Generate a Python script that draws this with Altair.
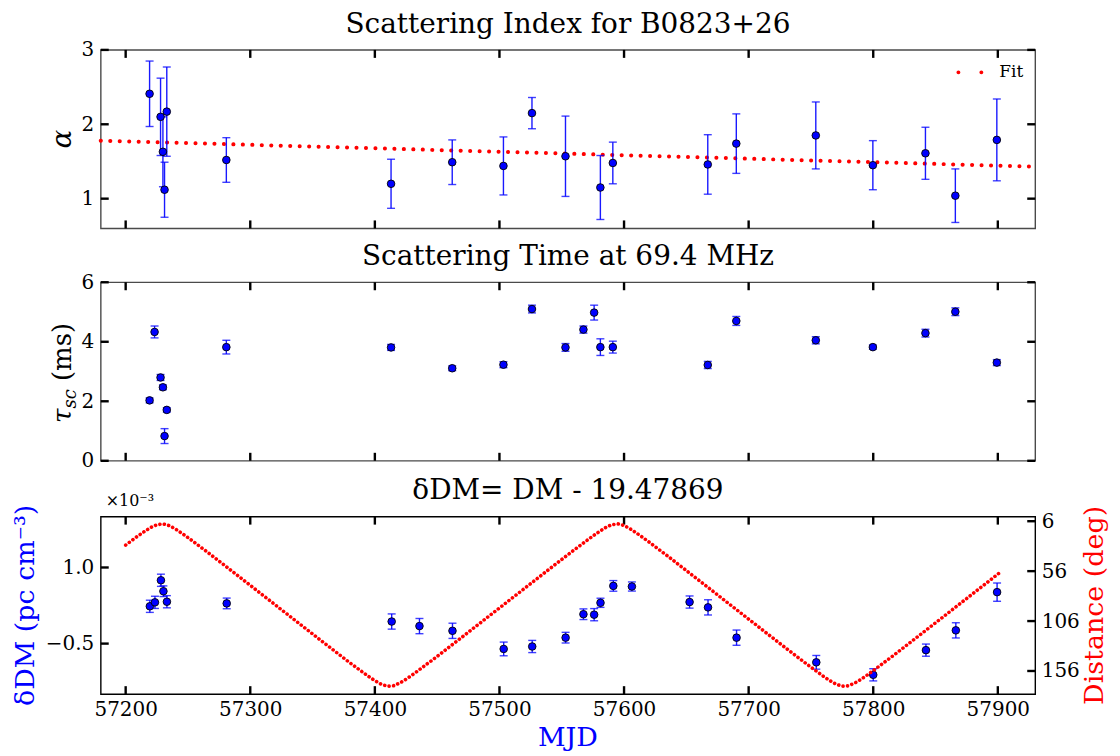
import altair as alt
import pandas as pd

FONT = "DejaVu Serif"
W, H = 937, 179
XDOM = [57180, 57930]
x_ticks = [57200, 57300, 57400, 57500, 57600, 57700, 57800, 57900]

# ---- Scattering index ----
alpha_mjd = [57219.2, 57228.0, 57229.9, 57231.2, 57233.0, 57280.8, 57413.0, 57462.1, 57503.2, 57526.1,
             57553.0, 57581.0, 57591.0, 57667.2, 57690.1, 57753.9, 57799.7, 57841.9, 57865.9, 57899.2]
alpha_val = [2.41, 2.10, 1.63, 1.12, 2.17, 1.52, 1.20, 1.49, 1.44, 2.15,
             1.57, 1.15, 1.48, 1.46, 1.74, 1.85, 1.45, 1.61, 1.04, 1.79]
alpha_err = [0.44, 0.52, 0.47, 0.37, 0.60, 0.30, 0.33, 0.30, 0.39, 0.21,
             0.54, 0.43, 0.28, 0.40, 0.40, 0.45, 0.33, 0.35, 0.36, 0.55]
fit_mjd = [57180, 57930]
fit_alpha = [1.78, 1.43]
alpha_ticks = [1, 2, 3]

# ---- Scattering time ----
tau_mjd = [57219.2, 57223.2, 57228.0, 57229.9, 57231.2, 57233.0, 57280.8, 57413.0, 57462.1, 57503.2,
           57526.1, 57553.0, 57567.4, 57576.0, 57581.0, 57591.0, 57667.2, 57690.1, 57753.9, 57799.7,
           57841.9, 57865.9, 57899.2]
tau_val = [2.03, 4.33, 2.80, 2.47, 0.83, 1.71, 3.82, 3.81, 3.11, 3.23,
           5.10, 3.81, 4.41, 4.98, 3.82, 3.82, 3.22, 4.70, 4.05, 3.82,
           4.29, 5.01, 3.30]
tau_err = [0.08, 0.20, 0.10, 0.08, 0.25, 0.07, 0.23, 0.10, 0.08, 0.10,
           0.13, 0.13, 0.12, 0.25, 0.28, 0.20, 0.12, 0.15, 0.12, 0.07,
           0.13, 0.13, 0.10]
tau_ticks = [0, 2, 4, 6]

# ---- delta DM (x 1e-3) ----
dm_mjd = [57219.4, 57223.5, 57228.3, 57230.3, 57233.1, 57281.1, 57413.5, 57435.8, 57462.3, 57503.4,
          57526.3, 57553.1, 57567.4, 57576.0, 57581.1, 57591.4, 57606.3, 57652.6, 57667.4, 57690.3,
          57754.3, 57800.0, 57842.3, 57866.3, 57899.4]
dm_val = [0.745, 0.771, 0.916, 0.844, 0.775, 0.764, 0.645, 0.615, 0.584, 0.465,
          0.481, 0.539, 0.693, 0.690, 0.768, 0.879, 0.875, 0.773, 0.738, 0.539,
          0.377, 0.295, 0.457, 0.587, 0.838]
dm_err = [0.040, 0.040, 0.040, 0.035, 0.040, 0.035, 0.050, 0.050, 0.050, 0.045,
          0.040, 0.035, 0.035, 0.040, 0.030, 0.035, 0.030, 0.040, 0.050, 0.050,
          0.045, 0.040, 0.040, 0.050, 0.060]
dm_ticks = [0.5, 1.0]

# ---- angular distance (deg), sampled every 5 days ----
dist_mjd = list(range(57200, 57901, 5)) + [57903]
dist_deg = [29.9, 25.2, 20.6, 16.3, 12.4, 9.5, 8.7, 10.4, 13.8, 18.0,
            22.4, 27.0, 31.7, 36.4, 41.2, 46.0, 50.8, 55.7, 60.5, 65.4,
            70.2, 75.1, 80.0, 84.8, 89.7, 94.6, 99.4, 104.3, 109.2, 114.0,
            118.9, 123.8, 128.6, 133.4, 138.2, 143.0, 147.8, 152.4, 157.0, 161.5,
            165.7, 169.2, 171.3, 170.8, 168.1, 164.3, 160.0, 155.4, 150.7, 146.1,
            141.4, 136.6, 131.7, 126.9, 122.1, 117.2, 112.3, 107.5, 102.6, 97.7,
            92.9, 88.0, 83.1, 78.3, 73.4, 68.5, 63.7, 58.8, 54.0, 49.1,
            44.3, 39.5, 34.7, 30.1, 25.4, 20.8, 16.5, 12.5, 9.6, 8.6,
            10.3, 13.7, 17.8, 22.2, 26.8, 31.5, 36.2, 40.9, 45.7, 50.6,
            55.4, 60.3, 65.1, 70.0, 74.8, 79.7, 84.6, 89.5, 94.3, 99.2,
            104.1, 108.9, 113.8, 118.7, 123.5, 128.4, 133.2, 138.0, 142.8, 147.5,
            152.2, 156.8, 161.3, 165.5, 169.1, 171.2, 170.9, 168.2, 164.5, 160.2,
            155.6, 151.0, 146.3, 141.6, 136.8, 132.0, 127.1, 122.3, 117.4, 112.6,
            107.7, 102.9, 98.0, 93.1, 88.2, 83.4, 78.5, 73.6, 68.8, 63.9,
            59.0, 56.1]
dist_ticks = [6, 56, 106, 156]

BLUE = "#0000ff"
RED = "#ff0000"
xs = alt.Scale(domain=XDOM, nice=False, zero=False)
one = pd.DataFrame({"k": [0]})


def table(mjd, val, err):
    return pd.DataFrame({"mjd": mjd, "v": val,
                         "lo": [a - b for a, b in zip(val, err)],
                         "hi": [a + b for a, b in zip(val, err)]})


def data_layers(df, ys, yax, xax):
    base = alt.Chart(df)
    X = alt.X("mjd:Q", scale=xs, axis=xax)
    bars = base.mark_rule(color=BLUE, strokeWidth=1.4, opacity=0.9).encode(
        x=X, y=alt.Y("lo:Q", scale=ys, axis=yax), y2="hi:Q")
    cap_lo = base.mark_rule(color=BLUE, strokeWidth=1.4, opacity=0.75, xOffset=-4, x2Offset=4).encode(
        x=X, x2="mjd:Q", y=alt.Y("lo:Q", scale=ys, axis=yax))
    cap_hi = base.mark_rule(color=BLUE, strokeWidth=1.4, opacity=0.75, xOffset=-4, x2Offset=4).encode(
        x=X, x2="mjd:Q", y=alt.Y("hi:Q", scale=ys, axis=yax))
    pts = base.mark_point(filled=True, fill=BLUE, stroke="black", strokeWidth=0.9, size=58, opacity=1).encode(
        x=X, y=alt.Y("v:Q", scale=ys, axis=yax))
    return [bars, cap_lo, cap_hi, pts]


def x_tick_layers(xax, h=H):
    d = alt.Chart(pd.DataFrame({"t": x_ticks}))
    X = alt.X("t:Q", scale=xs, axis=xax)
    return [d.mark_rule(color="black", strokeWidth=2.4).encode(x=X, y=alt.value(0), y2=alt.value(8)),
            d.mark_rule(color="black", strokeWidth=2.4).encode(x=X, y=alt.value(h - 8), y2=alt.value(h))]


def y_tick_layers(vals, ys, yax, left=True, right=True):
    d = alt.Chart(pd.DataFrame({"t": vals}))
    Y = alt.Y("t:Q", scale=ys, axis=yax)
    out = []
    if left:
        out.append(d.mark_rule(color="black", strokeWidth=2.4).encode(y=Y, x=alt.value(0), x2=alt.value(8)))
    if right:
        out.append(d.mark_rule(color="black", strokeWidth=2.4).encode(y=Y, x=alt.value(W - 8), x2=alt.value(W)))
    return out


def yaxis(values, **kw):
    args = dict(values=values, title=None, ticks=False, domain=False, grid=False,
                labelPadding=7, labelFontSize=20, labelFont=FONT, labelColor="black")
    args.update(kw)
    return alt.Axis(**args)


def label(text, x, y, size=27, color="black", angle=0, align="center", style="normal"):
    kw = dict(text=text, font=FONT, fontSize=size, color=color, align=align, baseline="alphabetic",
              fontStyle=style)
    if angle:
        kw["angle"] = angle
    return alt.Chart(one).mark_text(**kw).encode(x=alt.value(x), y=alt.value(y))


def panel_title(text, y=-17):
    return label(text, W / 2, y, size=28)


FRAME_GREY = alt.ViewBackground(stroke="#4a4a4a", strokeWidth=1.4)
FRAME_BLACK = alt.ViewBackground(stroke="black", strokeWidth=1.4)

# ---------------- top panel ----------------
ya = alt.Scale(domain=[0.6, 3.0], nice=False, zero=False)
ax_a = yaxis(alpha_ticks, format="d")
df_a = table(alpha_mjd, alpha_val, alpha_err)
df_fit = pd.DataFrame({"mjd": fit_mjd, "v": fit_alpha})
fit = alt.Chart(df_fit).mark_line(color=RED, strokeWidth=4, strokeDash=[0.1, 9.4], strokeCap="round").encode(
    x=alt.X("mjd:Q", scale=xs, axis=None), y=alt.Y("v:Q", scale=ya, axis=ax_a))
LEG_PATH = ("M -0.83 0 A 0.17 0.17 0 1 1 -1.17 0 A 0.17 0.17 0 1 1 -0.83 0 Z "
            "M 1.17 0 A 0.17 0.17 0 1 1 0.83 0 A 0.17 0.17 0 1 1 1.17 0 Z")
legend_layer = alt.Chart(pd.DataFrame({"s": ["Fit"]})).mark_point(filled=True, opacity=0).encode(
    fill=alt.Fill("s:N", scale=alt.Scale(domain=["Fit"], range=[RED]),
                  legend=alt.Legend(title=None, orient="none", legendX=860, legendY=11,
                                    symbolType=LEG_PATH, symbolSize=529, symbolOpacity=1,
                                    symbolStrokeWidth=0, labelFont=FONT, labelFontSize=17,
                                    labelColor="black", labelOffset=18, padding=0)))
top = alt.layer(
    fit,
    *data_layers(df_a, ya, ax_a, None),
    *x_tick_layers(None), *y_tick_layers(alpha_ticks, ya, ax_a), legend_layer,
    panel_title("Scattering Index for B0823+26"),
    label("α", -30, H / 2, size=28, angle=270, style="italic"),
).properties(width=W, height=H, view=FRAME_GREY)

# ---------------- middle panel ----------------
yt = alt.Scale(domain=[0, 6], nice=False, zero=False)
ax_t = yaxis(tau_ticks, format="d")
df_t = table(tau_mjd, tau_val, tau_err)
mid = alt.layer(
    *data_layers(df_t, yt, ax_t, None),
    *x_tick_layers(None), *y_tick_layers(tau_ticks, yt, ax_t),
    panel_title("Scattering Time at 69.4 MHz"),
    label("τ", -30, 141, size=26, angle=270, align="left", style="italic"),
    label("sc", -25, 126.5, size=18, angle=270, align="left", style="italic"),
    label("(ms)", -30, 99, size=26, angle=270, align="left"),
).properties(width=W, height=H, view=FRAME_GREY)

# ---------------- bottom panel ----------------
HB = H - 1
yd = alt.Scale(domain=[0.168, 1.334], nice=False, zero=False)
yr = alt.Scale(domain=[1.4, 179.2], nice=False, zero=False, reverse=True)
df_d = table(dm_mjd, dm_val, dm_err)
xaxis_b = alt.Axis(values=x_ticks, format="d", ticks=False, domain=False, grid=False, title=None,
                   labelPadding=5, labelFontSize=20, labelFont=FONT, labelColor="black")
ax_d = yaxis(dm_ticks, labelExpr="datum.value < 0.75 ? '−0.5' : '1.0'")
ax_r = alt.Axis(orient="right", values=dist_ticks, title=None, ticks=False, domain=False,
                grid=False, labelPadding=6, labelFontSize=20, labelFont=FONT, labelColor="black")
left_grp = alt.layer(
    *data_layers(df_d, yd, ax_d, xaxis_b),
    *x_tick_layers(xaxis_b, HB), *y_tick_layers(dm_ticks, yd, ax_d, right=False),
    panel_title("δDM= DM - 19.47869", y=-18),
    label("×10⁻³", 5, -11, size=16, align="left"),
    label("δDM (pc cm⁻³)", -67, HB / 2, size=27, color=BLUE, angle=270),
    label("MJD", W / 2, HB + 52, size=27, color=BLUE),
    label("Distance (deg)", W + 68, HB / 2, size=27, color=RED, angle=270),
)
df_dist = pd.DataFrame({"mjd": dist_mjd, "d": dist_deg})
curve = alt.Chart(df_dist).mark_line(color=RED, strokeWidth=3.6, strokeDash=[0.1, 4.4], strokeCap="round").encode(
    x=alt.X("mjd:Q", scale=xs, axis=xaxis_b),
    y=alt.Y("d:Q", scale=yr, axis=ax_r))
right_grp = alt.layer(curve, *y_tick_layers(dist_ticks, yr, ax_r, left=False))
bot = alt.layer(left_grp, right_grp).resolve_scale(y="independent").properties(
    width=W, height=HB, view=FRAME_BLACK)

upper = alt.vconcat(top, mid, spacing=12)
chart = alt.vconcat(upper, bot, spacing=4).properties(
    padding={"left": 3, "top": 1, "right": 3, "bottom": 0}
).configure_axis(
    labelFont=FONT
).configure_legend(
    labelFont=FONT
)

chart.save("out.html", embed_options={"renderer": "svg", "actions": False})
